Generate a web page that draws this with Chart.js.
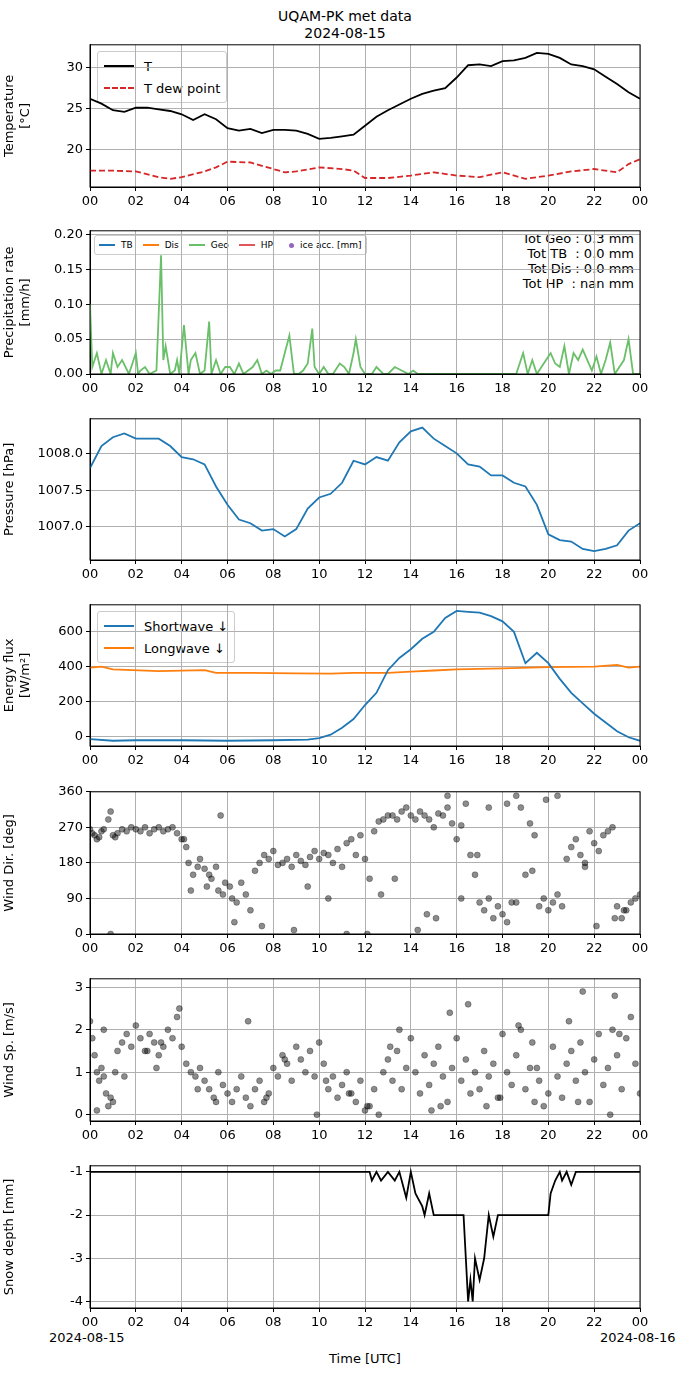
<!DOCTYPE html>
<html lang="en">
<head>
<meta charset="UTF-8">
<script src="https://cdn.jsdelivr.net/npm/chart.js"></script>
<title>UQAM-PK met data</title>
<style>
  body { margin:0; background:#fff; font-family:"DejaVu Sans", sans-serif; }
  #wrap { position:relative; width:690px; height:1377px; }
  canvas { position:absolute; left:0; }
  .txt { position:absolute; color:#000; font-size:14px; white-space:nowrap; }
  .leg { position:absolute; background:rgba(255,255,255,0.85); border:1px solid #ccc; border-radius:3px; font-size:13px; padding:3px 6px; }
  .leg div { display:flex; align-items:center; height:22px; }
  .leg span.l { display:inline-block; width:30px; margin-right:10px; border-top:2px solid #000; }
</style>
</head>
<body>
<div id="wrap">
  <div class="txt" style="left:0;width:690px;text-align:center;top:8px;">UQAM-PK met data</div>
  <div class="txt" style="left:0;width:690px;text-align:center;top:25px;">2024-08-15</div>

  <div class="leg" style="left:97px;top:51px;">
    <div><span class="l"></span>T</div>
    <div><span class="l" style="border-top:2px dashed #d62728"></span>T dew point</div>
  </div>
  <div class="leg" style="left:94px;top:235px;font-size:9px;padding:2px 4px;display:flex;gap:10px;">
    <div style="height:14px"><span class="l" style="width:16px;margin-right:6px;border-color:#1f77b4"></span>TB</div>
    <div style="height:14px"><span class="l" style="width:16px;margin-right:6px;border-color:#ff7f0e"></span>Dis</div>
    <div style="height:14px"><span class="l" style="width:16px;margin-right:6px;border-color:#6abf69"></span>Geo</div>
    <div style="height:14px"><span class="l" style="width:16px;margin-right:6px;border-color:#e15759"></span>HP</div>
    <div style="height:14px"><span style="display:inline-block;width:5px;height:5px;border-radius:50%;background:#9467bd;margin:0 6px 0 6px"></span>ice acc. [mm]</div>
  </div>
  <div class="txt" style="right:56px;top:231px;text-align:right;font-size:13px;line-height:15px;">Tot Geo : 0.3 mm<br>Tot TB &nbsp;: 0.0 mm<br>Tot Dis : 0.0 mm<br>Tot HP &nbsp;: nan mm</div>
  <div class="leg" style="left:97px;top:611px;">
    <div><span class="l" style="border-color:#1f77b4"></span>Shortwave ↓</div>
    <div><span class="l" style="border-color:#ff7f0e"></span>Longwave ↓</div>
  </div>

  <div class="txt" style="left:49px;top:1330px;font-size:13px;">2024-08-15</div>
  <div class="txt" style="left:600px;top:1330px;font-size:13px;">2024-08-16</div>
  <div class="txt" style="left:0;width:730px;text-align:center;top:1351px;font-size:13px;">Time [UTC]</div>
</div>
<script>
// ---- data ----
const tHours = [0,0.5,1,1.5,2,2.5,3,3.5,4,4.5,5,5.5,6,6.5,7,7.5,8,8.5,9,9.5,10,10.5,11,11.5,12,12.5,13,13.5,14,14.5,15,15.5,16,16.5,17,17.5,18,18.5,19,19.5,20,20.5,21,21.5,22,22.5,23,23.5,24];
const temp = [26.2,25.6,24.8,24.6,25.1,25.1,24.9,24.7,24.3,23.6,24.3,23.7,22.6,22.3,22.5,22.0,22.4,22.4,22.3,21.9,21.3,21.4,21.6,21.8,22.9,24.0,24.8,25.5,26.2,26.8,27.2,27.5,28.8,30.3,30.4,30.2,30.8,30.9,31.2,31.8,31.7,31.2,30.4,30.2,29.8,28.9,28.0,27.0,26.2];
const dewHours = [0,1,2,3,3.5,4,5,5.5,6,7,8,8.5,9,10,11,11.5,12,13,14,15,16,17,18,19,20,21,22,23,23.5,24];
const dew = [17.4,17.4,17.3,16.6,16.4,16.6,17.3,17.8,18.5,18.4,17.6,17.2,17.3,17.8,17.6,17.4,16.5,16.5,16.8,17.2,16.8,16.6,17.2,16.4,16.8,17.3,17.6,17.2,18.2,18.8];

const geoHours = [0,0.1,0.3,0.5,0.7,0.9,1.0,1.2,1.4,1.7,2.0,2.1,2.2,2.4,2.6,2.9,3.1,3.2,3.3,3.5,3.7,3.8,3.9,4.1,4.3,4.4,4.6,4.8,5.0,5.2,5.3,5.5,5.7,5.9,6.1,6.3,6.5,6.7,6.9,7.1,7.3,7.5,7.7,7.9,8.1,8.3,8.5,8.7,8.9,9.1,9.3,9.5,9.7,9.8,10.0,10.2,10.4,10.6,10.9,11.1,11.3,11.5,11.6,11.8,12.0,12.3,12.5,12.8,13.0,13.3,13.6,13.9,14.1,14.3,14.6,15,16,17,18,18.6,18.8,18.9,19.1,19.3,19.5,19.7,19.9,20.1,20.3,20.5,20.7,20.9,21.1,21.3,21.5,21.7,21.9,22.1,22.3,22.5,22.7,22.9,23.1,23.3,23.5,23.7,24];
const geoRate = [0.1,0.01,0.03,0,0.02,0,0.03,0.01,0.02,0,0.03,0,0.005,0.01,0,0.005,0.17,0.02,0.04,0,0.005,0.02,0,0.07,0,0.02,0.03,0,0.005,0.075,0,0.02,0,0.01,0.01,0,0.015,0,0.005,0.01,0.02,0,0.005,0,0.005,0.005,0.03,0.055,0,0,0.005,0.015,0.065,0.01,0,0.01,0,0,0.015,0.01,0,0.03,0.05,0.01,0,0,0.01,0,0,0.01,0.005,0,0.005,0,0,0,0,0,0,0,0.02,0.03,0,0.02,0,0.01,0.02,0.03,0.015,0.01,0.04,0,0.03,0.02,0.035,0.02,0.005,0.025,0,0.02,0.045,0,0.01,0.02,0.05,0,0];

const pressure = [1007.8,1008.1,1008.22,1008.27,1008.2,1008.2,1008.2,1008.1,1007.95,1007.92,1007.85,1007.55,1007.3,1007.1,1007.05,1006.95,1006.97,1006.87,1006.97,1007.25,1007.4,1007.45,1007.6,1007.9,1007.85,1007.95,1007.9,1008.15,1008.3,1008.35,1008.2,1008.1,1008.0,1007.85,1007.82,1007.7,1007.7,1007.6,1007.55,1007.3,1006.9,1006.82,1006.8,1006.7,1006.67,1006.7,1006.75,1006.95,1007.05];

const swHours = [0,1,2,4,6,8,9.5,10,10.5,11,11.5,12,12.5,13,13.5,14,14.5,15,15.5,16,16.5,17,17.5,18,18.5,19,19.5,20,20.5,21,21.5,22,22.5,23,23.5,24];
const shortwave = [-15,-25,-22,-22,-25,-22,-18,-10,10,50,100,180,250,380,450,500,560,600,680,720,715,710,690,660,600,420,480,420,330,250,190,130,80,30,-5,-25];
const lwHours = [0,0.5,1,3,5,5.5,7,9,10.5,11.5,13,14,15,16,18,20,22,23,23.5,24];
const longwave = [395,400,385,375,380,365,365,362,360,365,365,372,378,385,390,398,400,410,395,400];

const dirHours = [0,0.1,0.2,0.3,0.4,0.5,0.6,0.8,0.9,1.0,1.1,1.2,1.4,1.6,1.8,2.0,2.2,2.4,2.6,2.8,3.0,3.2,3.4,3.6,3.8,4.0,4.2,4.3,4.4,4.5,4.7,4.8,5.0,5.1,5.3,5.5,5.6,5.8,5.9,6.1,6.2,6.4,6.6,6.8,7.0,7.2,7.4,7.6,7.8,8.0,8.2,8.4,8.6,8.8,9.0,9.2,9.4,9.6,9.8,10.0,10.2,10.4,10.6,10.8,11.0,11.2,11.4,11.6,11.8,12.0,12.2,12.4,12.6,12.8,13.0,13.2,13.4,13.6,13.8,14.0,14.2,14.4,14.6,14.8,15.0,15.2,15.4,15.6,15.8,16.0,16.2,16.4,16.6,16.8,17.0,17.2,17.4,17.6,17.8,18.0,18.2,18.4,18.6,18.8,19.0,19.2,19.4,19.6,19.8,20.0,20.2,20.4,20.6,20.8,21.0,21.2,21.4,21.6,21.8,22.0,22.2,22.4,22.6,22.8,23.0,23.2,23.4,23.6,23.8,24.0,0.9,4.1,5.2,6.3,7.5,9.5,11.2,12.1,12.7,13.3,14.7,15.6,16.2,17.4,18.2,18.6,19.3,20.4,21.6,22.1,22.9,5.7,8.9,10.4,14.3,15.1,16.9,19.9,23.3];
const windDir = [265,255,250,240,245,260,265,290,310,250,245,255,265,260,270,265,260,270,255,265,270,260,265,270,255,240,220,180,110,150,170,190,165,120,140,170,110,100,130,120,90,80,130,100,60,160,180,200,190,210,175,180,190,170,200,185,175,195,210,190,205,200,180,215,170,230,240,200,250,190,140,260,285,290,300,300,290,310,320,300,290,310,300,290,270,305,300,320,280,240,275,330,200,150,80,60,90,40,70,50,30,80,350,320,150,280,250,70,90,60,80,100,70,190,220,240,200,180,260,230,210,250,260,270,70,40,60,80,90,100,0,240,150,30,20,120,0,0,100,140,50,350,90,320,330,80,160,350,170,20,40,300,10,90,10,40,200,340,60];

const spdHours = [0,0.1,0.2,0.3,0.4,0.5,0.6,0.7,0.8,0.9,1.0,1.1,1.2,1.4,1.6,1.8,2.0,2.2,2.4,2.6,2.8,3.0,3.2,3.4,3.6,3.8,4.0,4.2,4.4,4.6,4.8,5.0,5.2,5.4,5.6,5.8,6.0,6.2,6.4,6.6,6.8,7.0,7.2,7.4,7.6,7.8,8.0,8.2,8.4,8.6,8.8,9.0,9.2,9.4,9.6,9.8,10.0,10.2,10.4,10.6,10.8,11.0,11.2,11.4,11.6,11.8,12.0,12.2,12.4,12.6,12.8,13.0,13.2,13.4,13.6,13.8,14.0,14.2,14.4,14.6,14.8,15.0,15.2,15.4,15.6,15.8,16.0,16.2,16.4,16.6,16.8,17.0,17.2,17.4,17.6,17.8,18.0,18.2,18.4,18.6,18.8,19.0,19.2,19.4,19.6,19.8,20.0,20.2,20.4,20.6,20.8,21.0,21.2,21.4,21.6,21.8,22.0,22.2,22.4,22.6,22.8,23.0,23.2,23.4,23.6,23.8,24.0,0.3,1.5,2.5,3.1,3.9,5.5,6.9,8.5,9.9,11.3,12.1,13.5,14.9,15.7,16.5,17.3,18.7,19.5,20.9,21.5,22.7,23.1,0.6,2.9,4.7,7.7,10.3,13.1,15.3,17.9,19.3,21.3,22.9];
const windSpd = [2.2,1.8,1.4,1.0,0.8,1.1,0.9,0.5,0.2,0.4,0.3,1.0,1.5,1.7,1.9,1.6,2.1,1.8,1.5,1.9,1.7,1.4,1.6,2.0,1.8,2.3,1.6,1.2,1.0,0.9,1.1,0.8,0.6,0.4,1.0,0.7,0.5,0.3,0.6,0.9,0.4,0.2,0.6,0.8,0.3,0.5,1.1,0.9,1.4,1.2,0.8,1.6,1.3,1.0,1.5,0.9,1.7,1.2,0.6,0.9,0.4,0.7,1.0,0.5,0.3,0.8,0.1,0.2,0.6,0.0,1.0,1.3,0.8,1.5,0.6,1.1,1.8,1.0,0.5,1.4,0.7,1.2,1.6,0.9,0.3,1.1,1.8,0.8,1.3,0.5,1.0,0.6,1.5,0.9,1.2,0.4,1.9,1.0,0.7,1.4,2.0,0.6,1.1,0.3,0.8,0.2,0.5,1.6,0.9,0.4,1.2,1.5,0.8,1.7,1.0,0.3,1.3,1.9,0.7,1.1,2.0,1.4,0.6,1.8,2.3,1.2,0.5,0.1,0.9,1.5,1.7,2.5,0.3,2.2,1.3,0.0,0.5,0.2,2.0,0.1,2.4,2.6,0.2,2.1,1.1,2.2,2.9,0.0,1.9,2.0,1.1,0.6,0.4,0.8,1.6,0.2,0.4,1.7,0.3,2.8];

const snowHours = [0,12.2,12.3,12.5,12.7,13,13.3,13.5,13.8,14,14.2,14.5,14.6,14.8,15,16,16.3,16.4,16.5,16.6,16.7,16.8,17,17.2,17.3,17.4,17.6,17.8,20,20.1,20.3,20.5,20.6,20.8,21,21.2,24];
const snowDepth = [-1,-1,-1.2,-1,-1.2,-1,-1.2,-1,-1.6,-1,-1.5,-1.8,-2,-1.5,-2,-2,-2,-3,-4,-3.5,-4,-3,-3.5,-3,-2.5,-2,-2.5,-2,-2,-1.5,-1.2,-1,-1.2,-1,-1.3,-1,-1];

// ---- helpers ----
const zip = (xs, ys) => xs.map((x, i) => ({x: x, y: ys[i]}));
const font = {family: 'DejaVu Sans', size: 13};
const panels = [
  {top: 44,  h: 143, label: ['Temperature', '[°C]'], min: 15.4, max: 32.8, step: 5, datasets: [
    {data: zip(tHours, temp), borderColor: '#000', borderWidth: 1.8},
    {data: zip(dewHours, dew), borderColor: '#d62728', borderDash: [6, 3], borderWidth: 1.8}]},
  {top: 230, h: 144, label: ['Precipitation rate', '[mm/h]'], min: 0, max: 0.205, step: 0.05, dec: 2, datasets: [
    {data: zip(geoHours, geoRate), borderColor: '#6abf69', borderWidth: 1.8}]},
  {top: 418, h: 142, label: ['Pressure [hPa]'], min: 1006.55, max: 1008.47, step: 0.5, dec: 1, datasets: [
    {data: zip(tHours, pressure), borderColor: '#1f77b4', borderWidth: 1.8}]},
  {top: 604, h: 142, label: ['Energy flux', '[W/m²]'], min: -55, max: 755, step: 200, datasets: [
    {data: zip(swHours, shortwave), borderColor: '#1f77b4', borderWidth: 1.8},
    {data: zip(lwHours, longwave), borderColor: '#ff7f0e', borderWidth: 1.8}]},
  {top: 791, h: 143, label: ['Wind Dir. [deg]'], min: 0, max: 360, step: 90, scatter: true, datasets: [
    {data: zip(dirHours, windDir)}]},
  {top: 978, h: 143, label: ['Wind Sp. [m/s]'], min: -0.15, max: 3.2, step: 1, scatter: true, datasets: [
    {data: zip(spdHours, windSpd)}]},
  {top: 1165, h: 143, label: ['Snow depth [mm]'], min: -4.15, max: -0.86, step: 1, datasets: [
    {data: zip(snowHours, snowDepth), borderColor: '#000', borderWidth: 1.8}]}
];

const wrap = document.getElementById('wrap');
panels.forEach(p => {
  const c = document.createElement('canvas');
  c.width = 690; c.height = p.h + 34;
  c.style.top = (p.top - 10) + 'px';
  wrap.appendChild(c);
  p.datasets.forEach(d => {
    d.pointRadius = p.scatter ? 3 : 0;
    d.showLine = !p.scatter;
    d.fill = false; d.tension = 0;
    if (p.scatter) { d.backgroundColor = 'rgba(0,0,0,0.45)'; d.borderColor = 'rgba(0,0,0,0.6)'; d.borderWidth = 0.5; }
  });
  new Chart(c, {
    type: 'scatter',
    data: {datasets: p.datasets},
    options: {
      responsive: false, animation: false,
      layout: {padding: {top: 4, right: 50, left: 0, bottom: 0}},
      plugins: {legend: {display: false}, tooltip: {enabled: false}},
      scales: {
        x: {
          type: 'linear', min: 0, max: 24,
          afterFit: s => { s.height = 24; },
          ticks: {stepSize: 2, color: '#000', font: font, maxRotation: 0,
                  callback: v => String(v % 24).padStart(2, '0')},
          grid: {color: '#b0b0b0', tickColor: '#000', tickLength: 4},
          border: {color: '#000'}
        },
        y: {
          min: p.min, max: p.max,
          afterFit: s => { s.width = 90; },
          afterBuildTicks: s => {
            const t = [];
            for (let v = Math.ceil(p.min / p.step) * p.step; v <= p.max + 1e-9; v += p.step) t.push({value: +v.toFixed(4)});
            s.ticks = t;
          },
          ticks: {color: '#000', font: font,
                  callback: v => p.dec ? v.toFixed(p.dec) : String(Math.round(v))},
          grid: {color: '#b0b0b0', tickColor: '#000', tickLength: 4},
          border: {color: '#000'},
          title: {display: true, text: p.label, color: '#000', font: font, padding: 2}
        }
      }
    },
    plugins: [{
      id: 'frame',
      afterDraw: ch => {
        const a = ch.chartArea, g = ch.ctx;
        g.save(); g.strokeStyle = '#000'; g.lineWidth = 1;
        g.strokeRect(a.left, a.top, a.right - a.left, a.bottom - a.top);
        g.restore();
      }
    }]
  });
});
</script>
</body>
</html>
